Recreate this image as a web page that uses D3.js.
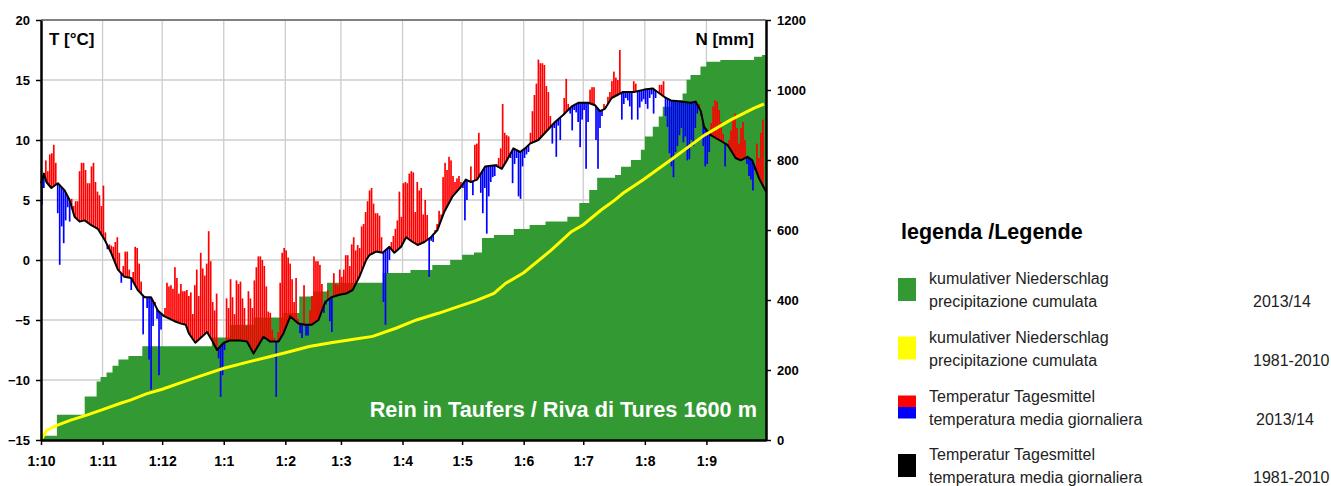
<!DOCTYPE html>
<html>
<head>
<meta charset="utf-8">
<script src="https://cdn.jsdelivr.net/npm/d3@7"></script>
<style>
  body { margin: 0; background: #fff; }
  svg { display: block; font-family: "Liberation Sans", Arial, Helvetica, sans-serif; }
  .ax text { font-weight: bold; fill: #000; }
</style>
</head>
<body>
<div id="chart"></div>
<script>
// daily mean temperature 2013/14 (°C), one list per month, from 1 Oct
var tempOct = [4.6, 6.0, 8.3, 7.4, 8.8, 8.9, 9.6, 8.1, 3.9, -0.4, 2.8, 1.4, 3.3, 4.4, 3.2, 5.1, 4.5, 4.9, 4.9, 7.4, 8.1, 8.1, 7.5, 6.4, 6.4, 7.8, 8.1, 6.5, 5.7, 5.4, 4.5];
var tempNov = [6.2, 2.3, 0.9, 1.3, 1.2, 1.1, 1.5, 1.9, 0.6, -1.9, -0.5, 0.7, 0.7, -0.8, -2.5, -1.0, 1.1, 1.0, -0.3, -1.8, -6.2, -3.0, -4.0, -8.3, -10.8, -5.5, -3.5, -4.9, -9.6, -5.8];
var tempDec = [-4.7, -4.0, -1.9, -2.2, -2.1, -2.4, -0.6, -1.5, -2.8, -2.0, -2.6, -2.6, -2.5, -3.0, -2.7, -4.5, -2.1, -0.8, -3.0, 0.6, -0.7, -1.3, -0.3, 2.4, -0.1, -3.5, -4.2, -2.8, -8.2, -11.4, -9.6];
var tempJan = [-7.5, -3.2, -4.0, -1.6, -3.1, -4.5, -1.7, -2.0, -1.8, -3.2, -4.0, -5.5, -2.6, -3.2, -4.0, -1.7, -0.6, 0.3, 0.3, 0.0, -0.5, -2.2, -4.3, -4.4, -5.8, -6.5, -11.4, -6.0, -1.9, 0.6, 1.0];
var tempFeb = [0.8, 0.2, -0.3, -1.6, -3.5, -1.5, -4.9, -6.1, -6.5, -2.1, -6.3, -6.3, -4.2, -3.0, 0.3, -0.1, -0.1, -0.4, -2.0, -4.4, -3.7, -2.5, -5.1, -6.0, -1.1, -2.0, -2.1, -0.8];
var tempMar = [-1.4, -0.8, 0.4, 0.4, -0.5, 1.3, 1.9, 0.8, 1.25, 1.0, 2.8, 3.0, 4.0, 4.9, 5.8, 6.0, 4.7, 3.9, 3.9, 3.7, 1.9, -3.5, -5.4, -1.1, 0.0, 1.5, 2.0, 2.6, 3.3, 5.7, 3.6];
var tempApr = [6.4, 6.5, 6.4, 7.2, 7.4, 7.3, 4.0, 6.5, 5.8, 6.0, 3.8, 5.0, 3.75, -1.4, 1.6, 1.5, 2.5, 3.0, 4.1, 3.8, 6.9, 8.1, 7.5, 8.6, 8.3, 7.0, 6.5, 6.8, 7.0, 6.5];
var tempMay = [6.0, 3.3, 5.0, 6.5, 7.8, 5.4, 9.6, 9.7, 10.6, 5.6, 3.9, 6.0, 2.2, 5.3, 6.5, 6.9, 7.0, 8.0, 8.5, 9.3, 13.0, 10.6, 10.4, 10.3, 8.5, 6.4, 8.0, 8.5, 5.3, 5.1, 7.8];
var tempJun = [8.5, 8.8, 9.0, 10.6, 12.4, 13.75, 14.7, 16.7, 16.4, 16.4, 16.25, 14.5, 14.0, 12.0, 9.7, 11.0, 8.6, 11.2, 10.0, 12.0, 13.5, 15.1, 13.0, 12.2, 10.8, 12.5, 12.3, 11.5, 9.4, 11.7];
var tempJul = [12.5, 7.6, 11.5, 14.2, 14.4, 14.4, 10.0, 7.6, 11.0, 12.0, 13.0, 12.8, 13.6, 14.0, 14.9, 15.7, 15.2, 15.0, 17.5, 11.7, 13.0, 13.5, 13.3, 12.8, 11.7, 14.9, 14.7, 11.7, 12.7, 13.2, 13.4];
var tempAug = [13.0, 12.6, 13.5, 13.8, 12.2, 13.5, 14.0, 14.6, 14.6, 14.9, 12.0, 11.1, 8.9, 7.8, 6.9, 9.0, 9.5, 10.4, 11.0, 9.8, 10.3, 8.3, 8.4, 10.0, 9.5, 11.0, 12.2, 13.0, 12.0, 9.5, 7.8];
var tempSep = [8.0, 9.0, 11.4, 12.8, 13.3, 13.2, 12.5, 11.5, 10.5, 7.8, 9.5, 10.0, 10.8, 11.7, 12.2, 11.0, 9.7, 11.0, 11.5, 10.0, 8.0, 7.0, 6.7, 5.8, 7.5, 9.7, 8.5, 10.6, 11.7, 6.1];

// 1981-2010 mean temperature (°C); day = days since 1 Oct
var climDay = [0, 1.5, 2.7, 5.2, 8.5, 11.9, 14.4, 16.9, 19.4, 22, 25.3, 28.6, 32, 35.3, 38.7, 42, 45.4, 48.7, 52.1, 55.4,
  58.8, 62.2, 67.2, 70.5, 72.9, 74.4, 77.7, 80.3, 83.6, 86.1, 88.6, 92, 95.3, 100.4, 103.7, 107, 109.5, 112, 115.4, 119.6,
  122.1, 125.5, 129.6, 133, 136.3, 139.7, 143.1, 146.2, 150.3, 153.6, 156.9, 160.3, 163.7, 165.3, 168.7, 172, 175.4, 177.9, 181.3, 183.8,
  187.1, 189.6, 193, 196.3, 199.6, 203, 207.2, 211.4, 213.9, 216.4, 219.6, 223.6, 228.6, 232, 234.5, 237.8, 241.2, 243.7, 246.2, 250.4,
  253.8, 258.8, 263, 267.2, 270.5, 275.5, 278.9, 281.4, 283.9, 287.3, 293, 298.6, 303.7, 307.9, 310.4, 313.7, 317.1, 322.1, 327.1, 329.6,
  332.2, 333.8, 337.2, 341.4, 345.6, 349.7, 352.3, 355.6, 358.1, 361.5, 365];
var climT = [6.4, 7.2, 6.5, 6.0, 6.4, 5.8, 5.0, 3.6, 3.2, 3.3, 2.9, 2.6, 1.7, 0.6, -0.8, -1.4, -1.5, -2.5, -3.1, -3.1,
  -4.2, -4.7, -5.1, -5.3, -5.4, -6.1, -6.9, -6.5, -6.0, -6.7, -7.5, -6.9, -6.7, -6.7, -6.8, -7.8, -7.1, -6.4, -6.8, -6.8,
  -6.1, -4.7, -5.3, -5.4, -5.4, -5.0, -3.5, -3.1, -2.9, -2.8, -2.5, -1.4, 0.0, 0.4, 0.7, 0.6, 1.1, 0.6, 1.1, 1.9,
  1.5, 1.25, 1.5, 1.9, 2.5, 4.0, 5.3, 6.1, 6.7, 6.5, 6.7, 7.8, 7.9, 7.6, 8.3, 9.3, 9.0, 9.3, 9.7, 10.0,
  10.6, 11.5, 12.1, 12.8, 13.1, 13.1, 12.9, 12.4, 12.6, 13.5, 14.0, 14.0, 14.2, 14.3, 14.0, 13.6, 13.3, 13.2, 13.1, 13.2,
  12.4, 11.1, 10.4, 10.0, 9.6, 8.5, 8.3, 8.6, 8.3, 6.8, 5.7];

// cumulative precipitation 2013/14 (mm), at the days where it steps up
var precDay = [0, 8, 22, 28, 30, 33, 36, 39, 44, 51, 86, 95, 107, 122, 130, 137, 144, 172, 186, 197,
  206, 212, 218, 222, 228, 238, 246, 254, 265, 271, 276, 280, 289, 292, 297, 302, 304, 308, 311, 313,
  317, 323, 325, 327, 332, 335, 342, 359, 363];
var precCum = [12, 72, 124, 167, 180, 193, 212, 230, 240, 268, 293, 329, 350, 363, 410, 424, 449, 477, 486, 500,
  514, 529, 536, 577, 586, 603, 614, 624, 638, 677, 714, 749, 757, 781, 800, 829, 867, 895, 924, 952,
  971, 990, 1029, 1043, 1067, 1081, 1086, 1095, 1100];

// cumulative precipitation 1981-2010 (mm)
var normDay = [0, 3, 8, 15, 23, 31, 40, 45, 53, 61, 72, 82, 92, 105, 115, 125, 135, 146, 155, 167,
  179, 189, 200, 210, 219, 228, 234, 243, 257, 267, 273, 282, 289, 293, 303, 317, 334, 347, 359, 364];
var normCum = [0, 28, 42, 57, 71, 87, 105, 114, 132, 145, 167, 186, 205, 224, 238, 252, 267, 278, 286, 296,
  320, 343, 362, 381, 398, 419, 448, 478, 543, 595, 615, 657, 686, 705, 743, 800, 871, 914, 948, 960];

var monthLabels = ["1:10", "1:11", "1:12", "1:1", "1:2", "1:3", "1:4", "1:5", "1:6", "1:7", "1:8", "1:9"];
var tTicks = [-15, -10, -5, 0, 5, 10, 15, 20];
var nTicks = [0, 200, 400, 600, 800, 1000, 1200];

var legendLine1 = ["kumulativer Niederschlag", "kumulativer Niederschlag", "Temperatur Tagesmittel", "Temperatur Tagesmittel"];
var legendLine2 = ["precipitazione cumulata", "precipitazione cumulata", "temperatura media giornaliera", "temperatura media giornaliera"];
var legendYears = ["2013/14", "1981-2010", "2013/14", "1981-2010"];

var tempDaily = [].concat(tempOct, tempNov, tempDec, tempJan, tempFeb, tempMar,
                          tempApr, tempMay, tempJun, tempJul, tempAug, tempSep);

var W = 1331, H = 486;
var pLeft = 41, pRight = 766, pTop = 20, pBottom = 440;

var svg = d3.select("#chart").append("svg").attr("width", W).attr("height", H);
svg.append("rect").attr("width", W).attr("height", H).attr("fill", "#fff");

var start = new Date(Date.UTC(2013, 9, 1)), end = new Date(Date.UTC(2014, 9, 1));
var xd = d3.scaleLinear().domain([0, 365]).range([pLeft, pRight]);   // day index -> px
var xt = d3.scaleUtc().domain([start, end]).range([pLeft, pRight]);   // date -> px (axis)
var yT = d3.scaleLinear().domain([-15, 20]).range([pBottom, pTop]);
var yN = d3.scaleLinear().domain([0, 1200]).range([pBottom, pTop]);
var months = d3.utcMonth.range(start, end);

// grid
var grid = svg.append("g");
grid.selectAll(".gx").data(months.slice(1)).enter().append("line")
    .attr("x1", function(d) { return xt(d); }).attr("x2", function(d) { return xt(d); })
    .attr("y1", pTop).attr("y2", pBottom)
    .attr("stroke", "#cccccc").attr("stroke-width", 1.3);
grid.selectAll(".gy").data(tTicks.slice(1, -1)).enter().append("line")
    .attr("x1", pLeft).attr("x2", pRight)
    .attr("y1", function(d) { return yT(d); }).attr("y2", function(d) { return yT(d); })
    .attr("stroke", "#cccccc").attr("stroke-width", 1.3);

// cumulative precipitation 2013/14
var steps = precDay.map(function(d, i) { return [d, precCum[i]]; });
steps.push([365, precCum[precCum.length - 1]]);
svg.append("path").datum(steps)
    .attr("fill", "#339933")
    .attr("d", d3.area().curve(d3.curveStepAfter)
        .x(function(d) { return xd(d[0]); })
        .y0(pBottom)
        .y1(function(d) { return yN(d[1]); }));

// clip regions above / below the 1981-2010 temperature line
var clim = climDay.map(function(d, i) { return [d, climT[i]]; });
var defs = svg.append("defs");
defs.append("clipPath").attr("id", "above").append("path").datum(clim)
    .attr("d", d3.area().x(function(d) { return xd(d[0]); }).y0(pTop).y1(function(d) { return yT(d[1]); }));
defs.append("clipPath").attr("id", "below").append("path").datum(clim)
    .attr("d", d3.area().x(function(d) { return xd(d[0]); }).y0(pBottom).y1(function(d) { return yT(d[1]); }));

var bw = xd(1) - xd(0) - 0.3;

// warmer than normal -> red
svg.append("g").attr("clip-path", "url(#above)")
  .selectAll("rect").data(tempDaily).enter().append("rect")
    .attr("x", function(d, i) { return xd(i); })
    .attr("width", bw)
    .attr("y", function(d) { return yT(d); })
    .attr("height", function(d) { return pBottom - yT(d); })
    .attr("fill", "#ff0000");

// colder than normal -> blue
svg.append("g").attr("clip-path", "url(#below)")
  .selectAll("rect").data(tempDaily).enter().append("rect")
    .attr("x", function(d, i) { return xd(i); })
    .attr("width", bw)
    .attr("y", pTop)
    .attr("height", function(d) { return yT(d) - pTop; })
    .attr("fill", "#0000ff");

// 1981-2010 mean temperature
svg.append("path").datum(clim)
    .attr("fill", "none").attr("stroke", "#000").attr("stroke-width", 2)
    .attr("stroke-linejoin", "round")
    .attr("d", d3.line().x(function(d) { return xd(d[0]); }).y(function(d) { return yT(d[1]); }));

// cumulative precipitation 1981-2010
var norm = normDay.map(function(d, i) { return [d, normCum[i]]; });
svg.append("path").datum(norm)
    .attr("fill", "none").attr("stroke", "#ffff00").attr("stroke-width", 3)
    .attr("d", d3.line().x(function(d) { return xd(d[0]); }).y(function(d) { return yN(d[1]); }));

// station label
svg.append("text")
    .attr("x", 757).attr("y", 417)
    .attr("text-anchor", "end")
    .attr("fill", "#fff")
    .style("font-size", "21.7px").style("font-weight", "bold")
    .text("Rein in Taufers / Riva di Tures 1600 m");

// frame top
svg.append("line").attr("x1", pLeft).attr("x2", pRight).attr("y1", pTop).attr("y2", pTop)
    .attr("stroke", "#808080").attr("stroke-width", 2);

// axes
var axL = svg.append("g").attr("class", "ax").attr("transform", "translate(" + pLeft + ",0)")
    .call(d3.axisLeft(yT).tickValues(tTicks).tickSize(5).tickSizeOuter(0).tickPadding(6));
var axR = svg.append("g").attr("class", "ax").attr("transform", "translate(" + pRight + ",0)")
    .call(d3.axisRight(yN).tickValues(nTicks).tickSize(5).tickSizeOuter(0).tickPadding(6)
      .tickFormat(d3.format("d")));
var axB = svg.append("g").attr("class", "ax").attr("transform", "translate(0," + pBottom + ")")
    .call(d3.axisBottom(xt).tickValues(months).tickSize(5).tickSizeOuter(0).tickPadding(11)
      .tickFormat(function(d, i) { return monthLabels[i]; }));

[axL, axR, axB].forEach(function(a) {
  a.select(".domain").attr("stroke", "#000").attr("stroke-width", 2.5);
  a.selectAll(".tick line").attr("stroke", "#000").attr("stroke-width", 1.5);
  a.selectAll("text").style("font-family", "'Liberation Sans', Arial, sans-serif");
});
axL.selectAll("text").style("font-size", "13px");
axR.selectAll("text").style("font-size", "13px");
axB.selectAll("text").style("font-size", "14px");

svg.append("text").attr("x", 49).attr("y", 45)
    .style("font-size", "17px").style("font-weight", "bold").text("T [°C]");
svg.append("text").attr("x", 754).attr("y", 45).attr("text-anchor", "end")
    .style("font-size", "17px").style("font-weight", "bold").text("N [mm]");

// legend
var lg = svg.append("g").attr("transform", "translate(898,0)");
lg.append("text").attr("x", 3).attr("y", 239)
    .style("font-size", "21.5px").style("font-weight", "bold").text("legenda /Legende");

var rowY = [284, 342.5, 401.5, 460];
var items = lg.selectAll(".item").data(legendYears).enter().append("g")
    .attr("transform", function(d, i) { return "translate(0," + rowY[i] + ")"; });

items.each(function(d, i) {
  var g = d3.select(this);
  if (i === 0) g.append("rect").attr("x", 0).attr("y", -6).attr("width", 18).attr("height", 23).attr("fill", "#339933");
  if (i === 1) g.append("rect").attr("x", 0).attr("y", -6).attr("width", 18).attr("height", 23).attr("fill", "#ffff00");
  if (i === 2) {
    g.append("rect").attr("x", 0).attr("y", -6).attr("width", 18).attr("height", 11.5).attr("fill", "#ff0000");
    g.append("rect").attr("x", 0).attr("y", 5.5).attr("width", 18).attr("height", 11.5).attr("fill", "#0000ff");
  }
  if (i === 3) g.append("rect").attr("x", 0).attr("y", -6).attr("width", 18).attr("height", 23).attr("fill", "#000");
  g.append("text").attr("x", 31).attr("y", 0).style("font-size", "16px").attr("fill", "#222").text(legendLine1[i]);
  g.append("text").attr("x", 31).attr("y", 23.3).style("font-size", "16px").attr("fill", "#222").text(legendLine2[i]);
  g.append("text").attr("x", i === 2 ? 358 : 355).attr("y", 23.3).style("font-size", "16px").attr("fill", "#222").text(d);
});
</script>
</body>
</html>
